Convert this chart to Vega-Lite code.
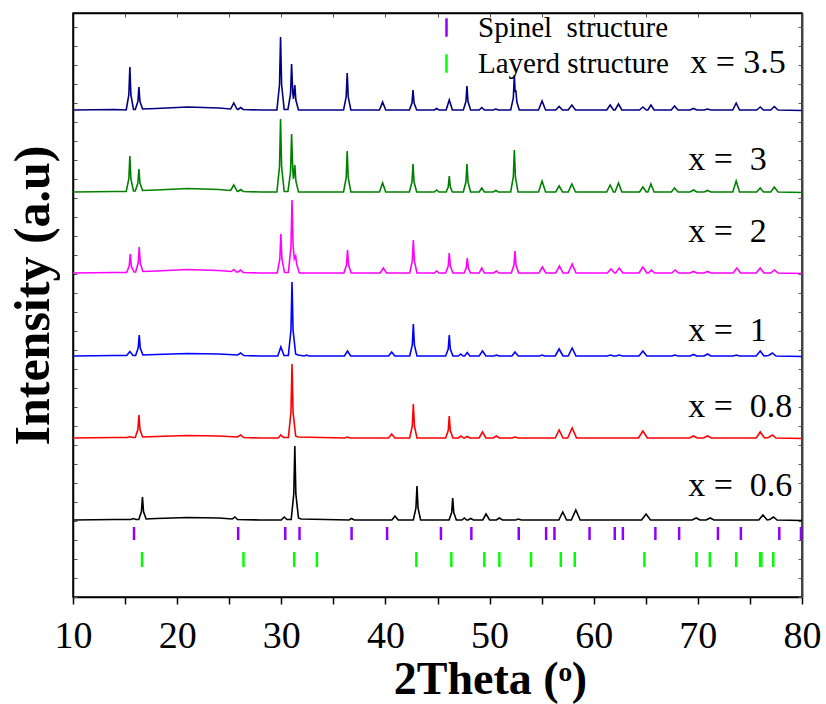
{
"$schema": "https://vega.github.io/schema/vega-lite/v6.json",
"width": 729, "height": 584,
"autosize": {"type": "none"},
"padding": {"left": 73, "top": 13, "right": 24, "bottom": 107},
"background": "white",
"config": {"font": "Liberation Serif", "view": {"stroke": "black", "strokeWidth": 1.5}},
"datasets": {
"xrd": [
{"s":"3.5","x":10,"y":487},{"s":"3.5","x":14,"y":487.5},
{"s":"3.5","x":15.11,"y":487},{"s":"3.5","x":15.36,"y":502},{"s":"3.5","x":15.46,"y":530},{"s":"3.5","x":15.56,"y":502},{"s":"3.5","x":15.81,"y":487.5},
{"s":"3.5","x":15.98,"y":487.5},{"s":"3.5","x":16.23,"y":495.5},{"s":"3.5","x":16.33,"y":510},{"s":"3.5","x":16.43,"y":495.5},{"s":"3.5","x":16.68,"y":488},
{"s":"3.5","x":18,"y":488.5},{"s":"3.5","x":21,"y":490},{"s":"3.5","x":24,"y":489},
{"s":"3.5","x":25.14,"y":488},{"s":"3.5","x":25.44,"y":494},{"s":"3.5","x":25.74,"y":488},
{"s":"3.5","x":25.85,"y":487.5},{"s":"3.5","x":26.1,"y":489.5},{"s":"3.5","x":26.35,"y":487.5},
{"s":"3.5","x":28,"y":487},
{"s":"3.5","x":29.58,"y":487},{"s":"3.5","x":29.83,"y":512.5},{"s":"3.5","x":29.93,"y":560},{"s":"3.5","x":30.03,"y":512.5},{"s":"3.5","x":30.28,"y":487.5},
{"s":"3.5","x":30.64,"y":487.5},{"s":"3.5","x":30.89,"y":503},{"s":"3.5","x":30.99,"y":533},{"s":"3.5","x":31.1,"y":505},{"s":"3.5","x":31.17,"y":498},{"s":"3.5","x":31.3,"y":512},{"s":"3.5","x":31.4,"y":497},{"s":"3.5","x":31.65,"y":487},
{"s":"3.5","x":35.98,"y":487},{"s":"3.5","x":36.23,"y":500},{"s":"3.5","x":36.33,"y":524},{"s":"3.5","x":36.43,"y":500},{"s":"3.5","x":36.68,"y":487},
{"s":"3.5","x":39.43,"y":487},{"s":"3.5","x":39.73,"y":495},{"s":"3.5","x":40.03,"y":487},
{"s":"3.5","x":42.3,"y":487},{"s":"3.5","x":42.55,"y":494},{"s":"3.5","x":42.65,"y":507},{"s":"3.5","x":42.75,"y":494},{"s":"3.5","x":43.0,"y":487},
{"s":"3.5","x":44.7,"y":487},{"s":"3.5","x":44.92,"y":488.5},{"s":"3.5","x":45.15,"y":487},
{"s":"3.5","x":45.83,"y":487},{"s":"3.5","x":46.13,"y":497},{"s":"3.5","x":46.43,"y":487},
{"s":"3.5","x":47.48,"y":487},{"s":"3.5","x":47.73,"y":495.5},{"s":"3.5","x":47.83,"y":511},{"s":"3.5","x":47.93,"y":495.5},{"s":"3.5","x":48.18,"y":487},
{"s":"3.5","x":49.0,"y":487},{"s":"3.5","x":49.25,"y":489.5},{"s":"3.5","x":49.5,"y":487},
{"s":"3.5","x":50.35,"y":487},{"s":"3.5","x":50.6,"y":488},{"s":"3.5","x":50.85,"y":487},
{"s":"3.5","x":52.03,"y":487},{"s":"3.5","x":52.28,"y":499},{"s":"3.5","x":52.38,"y":522},{"s":"3.5","x":52.45,"y":505},{"s":"3.5","x":52.52,"y":507},{"s":"3.5","x":52.62,"y":495},{"s":"3.5","x":52.85,"y":487},
{"s":"3.5","x":54.7,"y":487},{"s":"3.5","x":55.04,"y":496},{"s":"3.5","x":55.38,"y":487},
{"s":"3.5","x":56.35,"y":487},{"s":"3.5","x":56.68,"y":490.5},{"s":"3.5","x":57.0,"y":487},
{"s":"3.5","x":57.55,"y":487},{"s":"3.5","x":57.9,"y":492},{"s":"3.5","x":58.25,"y":487},
{"s":"3.5","x":61.25,"y":487},{"s":"3.5","x":61.58,"y":492},{"s":"3.5","x":61.9,"y":487},
{"s":"3.5","x":62.05,"y":487},{"s":"3.5","x":62.38,"y":493},{"s":"3.5","x":62.7,"y":487},
{"s":"3.5","x":64.4,"y":487},{"s":"3.5","x":64.72,"y":490},{"s":"3.5","x":65.05,"y":487},
{"s":"3.5","x":65.2,"y":487},{"s":"3.5","x":65.49,"y":492},{"s":"3.5","x":65.8,"y":487},
{"s":"3.5","x":67.45,"y":487},{"s":"3.5","x":67.76,"y":491},{"s":"3.5","x":68.1,"y":487},
{"s":"3.5","x":69.25,"y":487},{"s":"3.5","x":69.58,"y":488.5},{"s":"3.5","x":69.9,"y":487},
{"s":"3.5","x":70.6,"y":487},{"s":"3.5","x":70.93,"y":488},{"s":"3.5","x":71.25,"y":487},
{"s":"3.5","x":73.35,"y":487},{"s":"3.5","x":73.68,"y":494},{"s":"3.5","x":74.0,"y":487},
{"s":"3.5","x":75.65,"y":487},{"s":"3.5","x":75.99,"y":490},{"s":"3.5","x":76.3,"y":487},
{"s":"3.5","x":77.0,"y":487},{"s":"3.5","x":77.34,"y":490.5},{"s":"3.5","x":77.7,"y":487},
{"s":"3.5","x":80,"y":486.5},

{"s":"3","x":10,"y":405},{"s":"3","x":14,"y":405.5},
{"s":"3","x":15.11,"y":405.5},{"s":"3","x":15.36,"y":418},{"s":"3","x":15.46,"y":441},{"s":"3","x":15.56,"y":418},{"s":"3","x":15.81,"y":406},
{"s":"3","x":15.98,"y":406},{"s":"3","x":16.23,"y":414},{"s":"3","x":16.33,"y":428},{"s":"3","x":16.43,"y":414},{"s":"3","x":16.68,"y":406.5},
{"s":"3","x":18,"y":407},{"s":"3","x":21,"y":408.5},{"s":"3","x":24,"y":407.5},
{"s":"3","x":25.14,"y":406.5},{"s":"3","x":25.44,"y":412},{"s":"3","x":25.74,"y":406},
{"s":"3","x":25.85,"y":405.5},{"s":"3","x":26.1,"y":407.5},{"s":"3","x":26.35,"y":405.5},
{"s":"3","x":28,"y":405},
{"s":"3","x":29.58,"y":405},{"s":"3","x":29.83,"y":430.5},{"s":"3","x":29.93,"y":478},{"s":"3","x":30.03,"y":430.5},{"s":"3","x":30.28,"y":405.5},
{"s":"3","x":30.64,"y":405.5},{"s":"3","x":30.89,"y":425},{"s":"3","x":30.99,"y":463},{"s":"3","x":31.1,"y":428},{"s":"3","x":31.17,"y":418},{"s":"3","x":31.3,"y":432},{"s":"3","x":31.4,"y":416},{"s":"3","x":31.65,"y":405},
{"s":"3","x":35.98,"y":405},{"s":"3","x":36.23,"y":419},{"s":"3","x":36.33,"y":446},{"s":"3","x":36.43,"y":419},{"s":"3","x":36.68,"y":405},
{"s":"3","x":39.43,"y":405},{"s":"3","x":39.73,"y":414},{"s":"3","x":40.03,"y":405},
{"s":"3","x":42.3,"y":405},{"s":"3","x":42.55,"y":415},{"s":"3","x":42.65,"y":433},{"s":"3","x":42.75,"y":415},{"s":"3","x":43.0,"y":405},
{"s":"3","x":44.7,"y":405},{"s":"3","x":44.92,"y":407},{"s":"3","x":45.15,"y":405},
{"s":"3","x":45.83,"y":405},{"s":"3","x":46.03,"y":410},{"s":"3","x":46.13,"y":421},{"s":"3","x":46.23,"y":410},{"s":"3","x":46.43,"y":405},
{"s":"3","x":47.48,"y":405},{"s":"3","x":47.73,"y":415},{"s":"3","x":47.83,"y":433},{"s":"3","x":47.93,"y":415},{"s":"3","x":48.18,"y":405},
{"s":"3","x":49.0,"y":405},{"s":"3","x":49.25,"y":409},{"s":"3","x":49.5,"y":405},
{"s":"3","x":50.35,"y":405},{"s":"3","x":50.6,"y":406.5},{"s":"3","x":50.85,"y":405},
{"s":"3","x":52.03,"y":405},{"s":"3","x":52.28,"y":420},{"s":"3","x":52.38,"y":447},{"s":"3","x":52.48,"y":420},{"s":"3","x":52.73,"y":405},
{"s":"3","x":54.7,"y":405},{"s":"3","x":55.04,"y":416},{"s":"3","x":55.38,"y":405},
{"s":"3","x":56.35,"y":405},{"s":"3","x":56.68,"y":411},{"s":"3","x":57.0,"y":405},
{"s":"3","x":57.55,"y":405},{"s":"3","x":57.9,"y":413},{"s":"3","x":58.25,"y":405},
{"s":"3","x":61.25,"y":405},{"s":"3","x":61.58,"y":412},{"s":"3","x":61.9,"y":405},
{"s":"3","x":62.05,"y":405},{"s":"3","x":62.38,"y":414},{"s":"3","x":62.7,"y":405},
{"s":"3","x":64.4,"y":405},{"s":"3","x":64.72,"y":410},{"s":"3","x":65.05,"y":405},
{"s":"3","x":65.2,"y":405},{"s":"3","x":65.49,"y":413},{"s":"3","x":65.8,"y":405},
{"s":"3","x":67.45,"y":405},{"s":"3","x":67.76,"y":409},{"s":"3","x":68.1,"y":405},
{"s":"3","x":69.25,"y":405},{"s":"3","x":69.58,"y":407},{"s":"3","x":69.9,"y":405},
{"s":"3","x":70.6,"y":405},{"s":"3","x":70.93,"y":406.5},{"s":"3","x":71.25,"y":405},
{"s":"3","x":73.35,"y":405},{"s":"3","x":73.68,"y":416},{"s":"3","x":74.0,"y":405},
{"s":"3","x":75.65,"y":405},{"s":"3","x":75.99,"y":409},{"s":"3","x":76.3,"y":405},
{"s":"3","x":77.0,"y":405},{"s":"3","x":77.34,"y":410},{"s":"3","x":77.7,"y":405},
{"s":"3","x":80,"y":404.5},

{"s":"2","x":10,"y":324},{"s":"2","x":14,"y":324.5},
{"s":"2","x":15.15,"y":324.5},{"s":"2","x":15.4,"y":331},{"s":"2","x":15.5,"y":343},{"s":"2","x":15.6,"y":331},{"s":"2","x":15.85,"y":325},
{"s":"2","x":16.01,"y":325},{"s":"2","x":16.26,"y":334},{"s":"2","x":16.36,"y":350},{"s":"2","x":16.46,"y":334},{"s":"2","x":16.71,"y":325.5},
{"s":"2","x":18,"y":326},{"s":"2","x":21,"y":327.5},{"s":"2","x":24,"y":326.5},
{"s":"2","x":25.2,"y":325.5},{"s":"2","x":25.44,"y":327.5},{"s":"2","x":25.7,"y":325},
{"s":"2","x":25.85,"y":325},{"s":"2","x":26.1,"y":327},{"s":"2","x":26.35,"y":324.5},
{"s":"2","x":28,"y":324},
{"s":"2","x":29.61,"y":324},{"s":"2","x":29.86,"y":338},{"s":"2","x":29.96,"y":363},{"s":"2","x":30.06,"y":338},{"s":"2","x":30.31,"y":324.5},
{"s":"2","x":30.68,"y":324.5},{"s":"2","x":30.93,"y":350},{"s":"2","x":31.03,"y":397},{"s":"2","x":31.13,"y":352},{"s":"2","x":31.25,"y":338},{"s":"2","x":31.38,"y":341},{"s":"2","x":31.48,"y":333},{"s":"2","x":31.73,"y":324},
{"s":"2","x":36.01,"y":324},{"s":"2","x":36.26,"y":332},{"s":"2","x":36.36,"y":347},{"s":"2","x":36.46,"y":332},{"s":"2","x":36.71,"y":324},
{"s":"2","x":39.5,"y":324},{"s":"2","x":39.8,"y":329},{"s":"2","x":40.1,"y":324},
{"s":"2","x":42.33,"y":324},{"s":"2","x":42.58,"y":336},{"s":"2","x":42.68,"y":357},{"s":"2","x":42.78,"y":336},{"s":"2","x":43.03,"y":324},
{"s":"2","x":44.7,"y":324},{"s":"2","x":44.92,"y":326},{"s":"2","x":45.15,"y":324},
{"s":"2","x":45.78,"y":324},{"s":"2","x":46.03,"y":331},{"s":"2","x":46.13,"y":344},{"s":"2","x":46.23,"y":331},{"s":"2","x":46.48,"y":324},
{"s":"2","x":47.56,"y":324},{"s":"2","x":47.76,"y":329},{"s":"2","x":47.86,"y":339},{"s":"2","x":47.96,"y":329},{"s":"2","x":48.16,"y":324},
{"s":"2","x":49.0,"y":324},{"s":"2","x":49.25,"y":329},{"s":"2","x":49.5,"y":324},
{"s":"2","x":50.4,"y":324},{"s":"2","x":50.66,"y":326},{"s":"2","x":50.9,"y":324},
{"s":"2","x":52.09,"y":324},{"s":"2","x":52.34,"y":332},{"s":"2","x":52.44,"y":346},{"s":"2","x":52.54,"y":332},{"s":"2","x":52.79,"y":324},
{"s":"2","x":54.75,"y":324},{"s":"2","x":55.07,"y":330},{"s":"2","x":55.4,"y":324},
{"s":"2","x":56.35,"y":324},{"s":"2","x":56.71,"y":331},{"s":"2","x":57.05,"y":324},
{"s":"2","x":57.55,"y":324},{"s":"2","x":57.93,"y":333},{"s":"2","x":58.3,"y":324},
{"s":"2","x":61.3,"y":324},{"s":"2","x":61.65,"y":328},{"s":"2","x":62.0,"y":324},
{"s":"2","x":62.1,"y":324},{"s":"2","x":62.45,"y":329},{"s":"2","x":62.8,"y":324},
{"s":"2","x":64.35,"y":324},{"s":"2","x":64.72,"y":330},{"s":"2","x":65.1,"y":324},
{"s":"2","x":65.25,"y":324},{"s":"2","x":65.55,"y":327},{"s":"2","x":65.85,"y":324},
{"s":"2","x":67.5,"y":324},{"s":"2","x":67.82,"y":327},{"s":"2","x":68.15,"y":324},
{"s":"2","x":69.25,"y":324},{"s":"2","x":69.58,"y":325.5},{"s":"2","x":69.9,"y":324},
{"s":"2","x":70.6,"y":324},{"s":"2","x":70.93,"y":325.5},{"s":"2","x":71.25,"y":324},
{"s":"2","x":73.4,"y":324},{"s":"2","x":73.74,"y":329},{"s":"2","x":74.1,"y":324},
{"s":"2","x":75.6,"y":324},{"s":"2","x":75.99,"y":329},{"s":"2","x":76.35,"y":324},
{"s":"2","x":77.0,"y":324},{"s":"2","x":77.34,"y":327},{"s":"2","x":77.7,"y":324},
{"s":"2","x":80,"y":323.5},

{"s":"1","x":10,"y":241},{"s":"1","x":14,"y":241.5},
{"s":"1","x":15.16,"y":241.5},{"s":"1","x":15.46,"y":245.5},{"s":"1","x":15.76,"y":241.5},
{"s":"1","x":16.01,"y":241.5},{"s":"1","x":16.26,"y":249},{"s":"1","x":16.36,"y":262},{"s":"1","x":16.46,"y":249},{"s":"1","x":16.71,"y":242},
{"s":"1","x":18,"y":242.5},{"s":"1","x":21,"y":243.5},{"s":"1","x":24,"y":243},
{"s":"1","x":25.8,"y":242},{"s":"1","x":26.1,"y":244},{"s":"1","x":26.4,"y":241.5},
{"s":"1","x":28,"y":241},
{"s":"1","x":29.66,"y":241},{"s":"1","x":29.96,"y":250},{"s":"1","x":30.26,"y":241.5},
{"s":"1","x":30.68,"y":241.5},{"s":"1","x":30.93,"y":267},{"s":"1","x":31.03,"y":315},{"s":"1","x":31.13,"y":267},{"s":"1","x":31.38,"y":243},{"s":"1","x":31.6,"y":242},
{"s":"1","x":32.2,"y":241},{"s":"1","x":32.43,"y":242},{"s":"1","x":32.65,"y":241},
{"s":"1","x":36.06,"y":241},{"s":"1","x":36.36,"y":246},{"s":"1","x":36.66,"y":241},
{"s":"1","x":40.3,"y":241},{"s":"1","x":40.6,"y":245},{"s":"1","x":40.9,"y":241},
{"s":"1","x":42.33,"y":241},{"s":"1","x":42.58,"y":252},{"s":"1","x":42.68,"y":273},{"s":"1","x":42.78,"y":252},{"s":"1","x":43.03,"y":241},
{"s":"1","x":45.78,"y":241},{"s":"1","x":46.03,"y":248},{"s":"1","x":46.13,"y":262},{"s":"1","x":46.23,"y":248},{"s":"1","x":46.48,"y":241},
{"s":"1","x":47.0,"y":241},{"s":"1","x":47.23,"y":243},{"s":"1","x":47.45,"y":241},
{"s":"1","x":47.6,"y":241},{"s":"1","x":47.86,"y":244.5},{"s":"1","x":48.1,"y":241},
{"s":"1","x":49.0,"y":241},{"s":"1","x":49.32,"y":246},{"s":"1","x":49.65,"y":241},
{"s":"1","x":50.4,"y":241},{"s":"1","x":50.66,"y":242},{"s":"1","x":50.9,"y":241},
{"s":"1","x":52.15,"y":241},{"s":"1","x":52.44,"y":245},{"s":"1","x":52.75,"y":241},
{"s":"1","x":54.8,"y":241},{"s":"1","x":55.04,"y":242},{"s":"1","x":55.3,"y":241},
{"s":"1","x":56.3,"y":241},{"s":"1","x":56.68,"y":248},{"s":"1","x":57.05,"y":241},
{"s":"1","x":57.55,"y":241},{"s":"1","x":57.93,"y":249},{"s":"1","x":58.3,"y":241},
{"s":"1","x":61.3,"y":241},{"s":"1","x":61.6,"y":242},{"s":"1","x":61.9,"y":241},
{"s":"1","x":62.15,"y":241},{"s":"1","x":62.45,"y":242},{"s":"1","x":62.75,"y":241},
{"s":"1","x":64.35,"y":241},{"s":"1","x":64.72,"y":246},{"s":"1","x":65.1,"y":241},
{"s":"1","x":67.5,"y":241},{"s":"1","x":67.8,"y":242},{"s":"1","x":68.1,"y":241},
{"s":"1","x":69.25,"y":241},{"s":"1","x":69.58,"y":242.5},{"s":"1","x":69.9,"y":241},
{"s":"1","x":70.6,"y":241},{"s":"1","x":70.93,"y":243},{"s":"1","x":71.25,"y":241},
{"s":"1","x":73.4,"y":241},{"s":"1","x":73.7,"y":242},{"s":"1","x":74.0,"y":241},
{"s":"1","x":75.6,"y":241},{"s":"1","x":75.99,"y":246},{"s":"1","x":76.35,"y":241},
{"s":"1","x":76.8,"y":241.5},{"s":"1","x":77.15,"y":244},{"s":"1","x":77.5,"y":241},
{"s":"1","x":80,"y":240.5},

{"s":"0.8","x":10,"y":159},{"s":"0.8","x":14,"y":159.5},
{"s":"0.8","x":15.2,"y":159.5},{"s":"0.8","x":15.46,"y":160.5},{"s":"0.8","x":15.7,"y":159.5},
{"s":"0.8","x":15.98,"y":159.5},{"s":"0.8","x":16.23,"y":167.5},{"s":"0.8","x":16.33,"y":182},{"s":"0.8","x":16.43,"y":167.5},{"s":"0.8","x":16.68,"y":160},
{"s":"0.8","x":18,"y":160.5},{"s":"0.8","x":21,"y":161.5},{"s":"0.8","x":24,"y":161},
{"s":"0.8","x":25.8,"y":160},{"s":"0.8","x":26.1,"y":162},{"s":"0.8","x":26.4,"y":159.5},
{"s":"0.8","x":28,"y":159},
{"s":"0.8","x":29.7,"y":159},{"s":"0.8","x":29.96,"y":162},{"s":"0.8","x":30.2,"y":159.5},
{"s":"0.8","x":30.68,"y":159.5},{"s":"0.8","x":30.93,"y":185},{"s":"0.8","x":31.03,"y":233},{"s":"0.8","x":31.13,"y":185},{"s":"0.8","x":31.38,"y":161},{"s":"0.8","x":31.6,"y":160},
{"s":"0.8","x":36.1,"y":159},{"s":"0.8","x":36.36,"y":160},{"s":"0.8","x":36.6,"y":159},
{"s":"0.8","x":40.3,"y":159},{"s":"0.8","x":40.6,"y":163},{"s":"0.8","x":40.9,"y":159},
{"s":"0.8","x":42.33,"y":159},{"s":"0.8","x":42.58,"y":171},{"s":"0.8","x":42.68,"y":193},{"s":"0.8","x":42.78,"y":171},{"s":"0.8","x":43.03,"y":159},
{"s":"0.8","x":45.78,"y":159},{"s":"0.8","x":46.03,"y":166.5},{"s":"0.8","x":46.13,"y":181},{"s":"0.8","x":46.23,"y":166.5},{"s":"0.8","x":46.48,"y":159},
{"s":"0.8","x":47.0,"y":159},{"s":"0.8","x":47.26,"y":161},{"s":"0.8","x":47.5,"y":159},
{"s":"0.8","x":47.6,"y":159},{"s":"0.8","x":47.86,"y":160.5},{"s":"0.8","x":48.1,"y":159},
{"s":"0.8","x":49.0,"y":159},{"s":"0.8","x":49.32,"y":165},{"s":"0.8","x":49.65,"y":159},
{"s":"0.8","x":50.35,"y":159},{"s":"0.8","x":50.66,"y":161},{"s":"0.8","x":50.95,"y":159},
{"s":"0.8","x":52.15,"y":159},{"s":"0.8","x":52.44,"y":160},{"s":"0.8","x":52.75,"y":159},
{"s":"0.8","x":56.3,"y":159},{"s":"0.8","x":56.68,"y":167},{"s":"0.8","x":57.05,"y":159},
{"s":"0.8","x":57.5,"y":159},{"s":"0.8","x":57.93,"y":169},{"s":"0.8","x":58.35,"y":159},
{"s":"0.8","x":64.3,"y":159},{"s":"0.8","x":64.72,"y":166},{"s":"0.8","x":65.15,"y":159},
{"s":"0.8","x":69.2,"y":159},{"s":"0.8","x":69.58,"y":161},{"s":"0.8","x":69.95,"y":159},
{"s":"0.8","x":70.55,"y":159},{"s":"0.8","x":70.93,"y":161},{"s":"0.8","x":71.3,"y":159},
{"s":"0.8","x":75.6,"y":159},{"s":"0.8","x":75.99,"y":165},{"s":"0.8","x":76.4,"y":159},
{"s":"0.8","x":76.8,"y":159.5},{"s":"0.8","x":77.15,"y":162},{"s":"0.8","x":77.5,"y":159},
{"s":"0.8","x":80,"y":158.5},

{"s":"0.6","x":10,"y":77},{"s":"0.6","x":14,"y":77.5},
{"s":"0.6","x":15.55,"y":77.5},{"s":"0.6","x":15.8,"y":78.5},{"s":"0.6","x":16.05,"y":77.5},
{"s":"0.6","x":16.32,"y":77.5},{"s":"0.6","x":16.57,"y":85.5},{"s":"0.6","x":16.67,"y":100},{"s":"0.6","x":16.77,"y":85.5},{"s":"0.6","x":17.02,"y":78},
{"s":"0.6","x":18,"y":78.5},{"s":"0.6","x":21,"y":79.5},{"s":"0.6","x":24,"y":79},
{"s":"0.6","x":25.3,"y":78},{"s":"0.6","x":25.54,"y":80},{"s":"0.6","x":25.8,"y":77.5},
{"s":"0.6","x":28,"y":77},
{"s":"0.6","x":30.0,"y":77},{"s":"0.6","x":30.28,"y":80},{"s":"0.6","x":30.55,"y":77.5},
{"s":"0.6","x":30.95,"y":77.5},{"s":"0.6","x":31.2,"y":103},{"s":"0.6","x":31.3,"y":151},{"s":"0.6","x":31.4,"y":103},{"s":"0.6","x":31.65,"y":79},{"s":"0.6","x":31.9,"y":78},
{"s":"0.6","x":36.5,"y":77},{"s":"0.6","x":36.75,"y":78.5},{"s":"0.6","x":37.0,"y":77},
{"s":"0.6","x":40.62,"y":77},{"s":"0.6","x":40.92,"y":81},{"s":"0.6","x":41.22,"y":77},
{"s":"0.6","x":42.68,"y":77},{"s":"0.6","x":42.93,"y":89},{"s":"0.6","x":43.03,"y":111},{"s":"0.6","x":43.13,"y":89},{"s":"0.6","x":43.38,"y":77},
{"s":"0.6","x":46.11,"y":77},{"s":"0.6","x":46.36,"y":84.5},{"s":"0.6","x":46.46,"y":99},{"s":"0.6","x":46.56,"y":84.5},{"s":"0.6","x":46.81,"y":77},
{"s":"0.6","x":47.35,"y":77},{"s":"0.6","x":47.58,"y":79},{"s":"0.6","x":47.8,"y":77},
{"s":"0.6","x":47.95,"y":77},{"s":"0.6","x":48.19,"y":78.5},{"s":"0.6","x":48.45,"y":77},
{"s":"0.6","x":49.35,"y":77},{"s":"0.6","x":49.66,"y":83},{"s":"0.6","x":50.0,"y":77},
{"s":"0.6","x":50.65,"y":77},{"s":"0.6","x":50.94,"y":79},{"s":"0.6","x":51.25,"y":77},
{"s":"0.6","x":52.5,"y":77},{"s":"0.6","x":52.77,"y":78},{"s":"0.6","x":53.05,"y":77},
{"s":"0.6","x":56.65,"y":77},{"s":"0.6","x":57.03,"y":85},{"s":"0.6","x":57.4,"y":77},
{"s":"0.6","x":57.85,"y":77},{"s":"0.6","x":58.28,"y":87},{"s":"0.6","x":58.7,"y":77},
{"s":"0.6","x":64.6,"y":77},{"s":"0.6","x":65.03,"y":83},{"s":"0.6","x":65.45,"y":77},
{"s":"0.6","x":69.45,"y":77},{"s":"0.6","x":69.84,"y":79},{"s":"0.6","x":70.2,"y":77},
{"s":"0.6","x":70.8,"y":77},{"s":"0.6","x":71.18,"y":79},{"s":"0.6","x":71.55,"y":77},
{"s":"0.6","x":75.85,"y":77},{"s":"0.6","x":76.25,"y":82},{"s":"0.6","x":76.65,"y":77},
{"s":"0.6","x":76.9,"y":77.5},{"s":"0.6","x":77.27,"y":80},{"s":"0.6","x":77.6,"y":77},
{"s":"0.6","x":80,"y":76.5}
],
"spinel": [
{"phase":"Spinel\u00a0 structure","x":15.86},{"phase":"Spinel\u00a0 structure","x":25.86},{"phase":"Spinel\u00a0 structure","x":30.38},{"phase":"Spinel\u00a0 structure","x":31.75},{"phase":"Spinel\u00a0 structure","x":36.75},{"phase":"Spinel\u00a0 structure","x":40.16},{"phase":"Spinel\u00a0 structure","x":45.33},{"phase":"Spinel\u00a0 structure","x":48.25},{"phase":"Spinel\u00a0 structure","x":52.8},{"phase":"Spinel\u00a0 structure","x":55.43},{"phase":"Spinel\u00a0 structure","x":56.23},{"phase":"Spinel\u00a0 structure","x":59.6},{"phase":"Spinel\u00a0 structure","x":62.02},{"phase":"Spinel\u00a0 structure","x":62.8},{"phase":"Spinel\u00a0 structure","x":65.92},{"phase":"Spinel\u00a0 structure","x":68.2},{"phase":"Spinel\u00a0 structure","x":71.93},{"phase":"Spinel\u00a0 structure","x":74.13},{"phase":"Spinel\u00a0 structure","x":77.82},{"phase":"Spinel\u00a0 structure","x":79.9}
],
"layered": [
{"phase":"Layerd structure","x":16.63},{"phase":"Layerd structure","x":26.37},{"phase":"Layerd structure","x":31.24},{"phase":"Layerd structure","x":33.42},{"phase":"Layerd structure","x":42.97},{"phase":"Layerd structure","x":46.33},{"phase":"Layerd structure","x":49.5},{"phase":"Layerd structure","x":50.94},{"phase":"Layerd structure","x":53.98},{"phase":"Layerd structure","x":56.84},{"phase":"Layerd structure","x":58.18},{"phase":"Layerd structure","x":64.87},{"phase":"Layerd structure","x":69.87},{"phase":"Layerd structure","x":71.15},{"phase":"Layerd structure","x":73.68},{"phase":"Layerd structure","x":75.98},{"phase":"Layerd structure","x":76.1},{"phase":"Layerd structure","x":77.24}
],
"labels": [
{"t":"x = 3.5","x":69.26,"y":524},
{"t":"x = \u00a03","x":69.07,"y":427},
{"t":"x = \u00a02","x":69.07,"y":355},
{"t":"x = \u00a01","x":69.07,"y":256},
{"t":"x = \u00a00.8","x":69.07,"y":180},
{"t":"x = \u00a00.6","x":69.07,"y":101}
]
},
"resolve": {"axis": {"x": "independent", "y": "independent"}},
"layer": [
{
"data": {"name": "xrd"},
"mark": {"type": "line", "strokeWidth": 1.6, "interpolate": "linear"},
"encoding": {
"x": {"field": "x", "type": "quantitative", "scale": {"domain": [10, 80], "nice": false, "zero": false},
"axis": {"orient": "bottom", "values": [10,15,20,25,30,35,40,45,50,55,60,65,70,75,80],
"labelExpr": "datum.value % 10 === 0 ? datum.label : ''", "labelFlush": false, "labelOverlap": false,
"tickSize": 7, "tickWidth": 1.5, "tickColor": "black", "domainColor": "black", "domainWidth": 1.5,
"labelFont": "Liberation Serif", "labelFontSize": 38, "labelColor": "black", "labelBaseline": "alphabetic", "labelPadding": 43,
"grid": false, "title": "2Theta (ᵒ)", "titleFont": "Liberation Serif", "titleFontSize": 46, "titleFontWeight": "bold", "titleColor": "black",
"titleX": 417, "titleY": 96, "titleBaseline": "alphabetic", "titleAlign": "center", "titleAnchor": null}},
"y": {"field": "y", "type": "quantitative", "scale": {"domain": [0, 584], "nice": false, "zero": false},
"axis": {"orient": "left", "values": [0,19,38,57,76,95,114,133,152,171,190,209,228,247,266,285,304,323,342,361,380,399,418,437,456,475,494,513,532,551,570],
"labels": false, "tickSize": -4, "tickColor": "#555", "domainColor": "black", "domainWidth": 1.5, "grid": false,
"title": "Intensity (a.u)", "titleFont": "Liberation Serif", "titleFontSize": 50, "titleFontWeight": "bold", "titleColor": "black",
"titleAngle": -90, "titleX": -25, "titleY": 282, "titleBaseline": "alphabetic", "titleAlign": "center"}},
"stroke": {"field": "s", "type": "nominal", "legend": null,
"scale": {"domain": ["0.6","0.8","1","2","3","3.5"], "range": ["#000000","#FF0000","#0000FF","#FF00FF","#008000","#000080"]}},
"detail": {"field": "s"}
}
},
{
"data": {"name": "spinel"},
"mark": {"type": "rule", "strokeWidth": 2.5},
"encoding": {
"x": {"field": "x", "type": "quantitative", "scale": {"domain": [10, 80], "nice": false, "zero": false},
"axis": {"orient": "top", "values": [10,15,20,25,30,35,40,45,50,55,60,65,70,75,80], "labels": false, "tickSize": -4, "tickColor": "#555", "domainColor": "black", "domainWidth": 1.5, "grid": false, "title": null}},
"y": {"datum": 57, "type": "quantitative", "scale": {"domain": [0, 584], "nice": false, "zero": false},
"axis": {"orient": "right", "values": [0,19,38,57,76,95,114,133,152,171,190,209,228,247,266,285,304,323,342,361,380,399,418,437,456,475,494,513,532,551,570], "labels": false, "tickSize": -4, "tickColor": "#555", "domainColor": "#444", "domainWidth": 2, "grid": false, "title": null}},
"y2": {"datum": 70},
"color": {"field": "phase", "type": "nominal",
"scale": {"domain": ["Spinel\u00a0 structure", "Layerd structure"], "range": ["#8F00FF", "#00FF00"]},
"legend": {"orient": "none", "legendX": 359, "legendY": 0, "title": null, "symbolType": "M0,-1L0,1", "symbolSize": 340, "symbolStrokeWidth": 2.5,
"labelFont": "Liberation Serif", "labelFontSize": 29, "labelColor": "black", "labelOffset": 17, "rowPadding": 6, "padding": 0, "labelLimit": 400}}
}
},
{
"data": {"name": "layered"},
"mark": {"type": "rule", "strokeWidth": 2.5},
"encoding": {
"x": {"field": "x", "type": "quantitative", "scale": {"domain": [10, 80], "nice": false, "zero": false}, "axis": null},
"y": {"datum": 30, "type": "quantitative", "scale": {"domain": [0, 584], "nice": false, "zero": false}, "axis": null},
"y2": {"datum": 45},
"color": {"field": "phase", "type": "nominal"}
}
},
{
"data": {"name": "labels"},
"mark": {"type": "text", "align": "left", "baseline": "alphabetic", "font": "Liberation Serif", "fontSize": 34, "color": "black"},
"encoding": {
"x": {"field": "x", "type": "quantitative", "scale": {"domain": [10, 80], "nice": false, "zero": false}, "axis": null},
"y": {"field": "y", "type": "quantitative", "scale": {"domain": [0, 584], "nice": false, "zero": false}, "axis": null},
"text": {"field": "t"}
}
}
]
}
